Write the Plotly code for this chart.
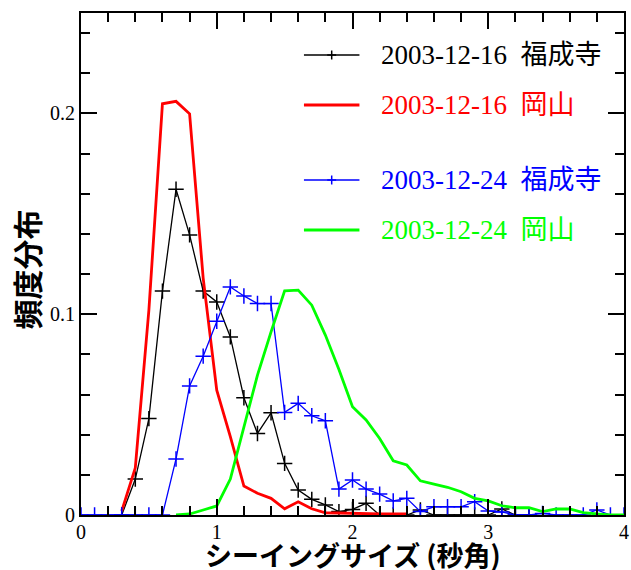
import plotly.graph_objects as go

# ---- data ----
x_black = [0.3, 0.4, 0.5, 0.6, 0.7, 0.8, 0.9, 1.0, 1.1, 1.2, 1.3, 1.4, 1.5, 1.6, 1.7, 1.8, 1.9, 2.0,
           2.1, 2.2, 2.3, 2.4, 2.5, 2.6, 2.7, 2.8, 2.9, 3.0, 3.1, 3.2, 3.3]
y_black = [0.0, 0.0179, 0.048, 0.1115, 0.1622, 0.1395, 0.1115, 0.1061, 0.0887, 0.0584, 0.0406, 0.0509,
           0.0257, 0.0124, 0.0078, 0.005, 0.0017, 0.0028, 0.0058, 0.0, 0.0, 0.0, 0.0025, 0.0, 0.0, 0.0,
           0.0, 0.0, 0.003, 0.0, 0.0]

x_red = [0.3, 0.4, 0.5, 0.6, 0.7, 0.8, 0.9, 1.0, 1.1, 1.2, 1.3, 1.4, 1.5, 1.6, 1.7, 1.8, 1.9, 2.0,
         2.1, 2.2, 2.3, 2.4]
y_red = [0.002, 0.0235, 0.102, 0.2048, 0.206, 0.1998, 0.118, 0.0622, 0.039, 0.0144, 0.0108, 0.0083,
         0.0031, 0.0066, 0.0031, 0.0011, 0.001, 0.0008, 0.0005, 0.0005, 0.0005, 0.0005]

x_blue = [0.0, 0.1, 0.2, 0.3, 0.4, 0.5, 0.6, 0.7, 0.8, 0.9, 1.0, 1.1, 1.2, 1.3, 1.4, 1.5, 1.6, 1.7,
          1.8, 1.9, 2.0, 2.1, 2.2, 2.3, 2.4, 2.5, 2.6, 2.7, 2.8, 2.9, 3.0, 3.1, 3.2, 3.3, 3.4, 3.5,
          3.6, 3.7, 3.8, 3.9, 4.0]
y_blue = [0.0, 0.0, 0.0, 0.0, 0.0, 0.0, 0.0, 0.0279, 0.0643, 0.0791, 0.0965, 0.1136, 0.1091, 0.1053,
          0.1053, 0.0511, 0.0556, 0.0494, 0.0469, 0.0129, 0.0174, 0.0129, 0.0104, 0.007, 0.0083,
          0.0017, 0.0041, 0.0041, 0.0041, 0.0066, 0.002, 0.0015, 0.0, 0.0, 0.0008, 0.0, 0.0, 0.0,
          0.0025, 0.0, 0.0]

x_green = [0.7, 0.8, 0.9, 1.0, 1.1, 1.2, 1.3, 1.4, 1.5, 1.6, 1.7, 1.8, 1.9, 2.0, 2.1, 2.2, 2.3, 2.4,
           2.5, 2.6, 2.7, 2.8, 2.9, 3.0, 3.1, 3.2, 3.3, 3.4, 3.5, 3.6, 3.7, 3.8, 3.9, 4.0]
y_green = [0.0, 0.0005, 0.0025, 0.0045, 0.0179, 0.044, 0.0697, 0.0912, 0.1116, 0.112, 0.1045, 0.0896,
           0.0725, 0.0539, 0.0473, 0.0381, 0.027, 0.0249, 0.017, 0.0154, 0.0138, 0.0116, 0.0083,
           0.007, 0.0046, 0.0036, 0.0036, 0.0017, 0.003, 0.003, 0.0012, 0.0005, 0.0, 0.0]

series_names = ["2003-12-16\u00a0\u00a0福成寺", "2003-12-16\u00a0\u00a0岡山",
                "2003-12-24\u00a0\u00a0福成寺", "2003-12-24\u00a0\u00a0岡山"]
series_colors = ["#000000", "#ff0000", "#0000ff", "#00ff00"]

x_tickvals = [0, 1, 2, 3, 4]
x_ticktext = ["0", "1", "2", "3", "4"]
y_tickvals = [0, 0.1, 0.2]
y_ticktext = ["0", "0.1", "0.2"]

x_title = "シーイングサイズ (秒角)"
y_title = "頻度分布"

SERIF = "Liberation Serif, Times New Roman, serif"
MIX = "Liberation Serif, Noto Sans CJK JP, serif"
CJK = "Noto Sans CJK JP, sans-serif"

fig = go.Figure()

def marker_trace(x, y, color, name):
    return go.Scatter(x=x, y=y, mode="lines+markers", name=name, showlegend=False,
                      line=dict(color=color, width=1.3),
                      marker=dict(symbol="cross-thin", size=11, color=color,
                                  line=dict(color=color, width=1.5)))

fig.add_trace(marker_trace(x_black, y_black, series_colors[0], series_names[0]))
fig.add_trace(go.Scatter(x=x_red, y=y_red, mode="lines", name=series_names[1], showlegend=False,
                         line=dict(color=series_colors[1], width=2.8)))
fig.add_trace(marker_trace(x_blue, y_blue, series_colors[2], series_names[2]))
fig.add_trace(go.Scatter(x=x_green, y=y_green, mode="lines", name=series_names[3], showlegend=False,
                         line=dict(color=series_colors[3], width=2.8)))

W, H = 631, 570
ml, mr, mt, mb = 81, 2, 13, 55
pw, ph = W - ml - mr, H - mt - mb

def px_to_paper(px, py):
    return (px - ml) / pw, (H - mb - py) / ph

# ---- manual legend ----
legend_rows_py = [55, 105, 180, 230]
widths = [1.3, 2.8, 1.3, 2.8]
has_marker = [True, False, True, False]
shapes = []
annotations = []
for i, py in enumerate(legend_rows_py):
    x0, y0 = px_to_paper(306, py)
    x1, _ = px_to_paper(362, py)
    shapes.append(dict(type="line", xref="paper", yref="paper", x0=x0, x1=x1, y0=y0, y1=y0,
                       line=dict(color=series_colors[i], width=widths[i])))
    if has_marker[i]:
        cx, cy = px_to_paper(334, py)
        dx, dy = 4.5 / pw, 4.5 / ph
        shapes.append(dict(type="line", xref="paper", yref="paper", x0=cx - dx, x1=cx + dx, y0=cy, y1=cy,
                           line=dict(color=series_colors[i], width=1.5)))
        shapes.append(dict(type="line", xref="paper", yref="paper", x0=cx, x1=cx, y0=cy - dy, y1=cy + dy,
                           line=dict(color=series_colors[i], width=1.5)))
    tx, ty = px_to_paper(382, py)
    annotations.append(dict(xref="paper", yref="paper", x=tx, y=ty, xanchor="left", yanchor="middle",
                            text=series_names[i], showarrow=False,
                            font=dict(family=MIX, size=27, color=series_colors[i])))

# axis titles
tx, ty = px_to_paper(355, 554)
annotations.append(dict(xref="paper", yref="paper", x=tx, y=ty, xanchor="center", yanchor="middle",
                        text=x_title, showarrow=False,
                        font=dict(family=CJK, size=27, color="black", weight="bold")))
tx, ty = px_to_paper(25, 270)
annotations.append(dict(xref="paper", yref="paper", x=tx, y=ty, xanchor="center", yanchor="middle",
                        text=y_title, showarrow=False, textangle=-90,
                        font=dict(family=CJK, size=30, color="black", weight="bold")))

axis_common = dict(showline=True, linecolor="black", linewidth=2, mirror="allticks",
                   ticks="inside", ticklen=16, tickwidth=2, tickcolor="black",
                   showgrid=False, zeroline=False, ticklabeloverflow="allow",
                   tickfont=dict(family=SERIF, size=20, color="black"))

fig.update_layout(
    width=W, height=H,
    margin=dict(l=ml, r=mr, t=mt, b=mb, pad=0),
    paper_bgcolor="white", plot_bgcolor="white",
    showlegend=False,
    xaxis=dict(range=[0, 4], tickvals=x_tickvals, ticktext=x_ticktext, ticklabelstandoff=-2,
               minor=dict(dtick=0.2, ticks="inside", ticklen=9, tickwidth=1.5, tickcolor="black",
                          showgrid=False),
               **axis_common),
    yaxis=dict(range=[0, 0.25], tickvals=y_tickvals, ticktext=y_ticktext,
               minor=dict(dtick=0.02, ticks="inside", ticklen=9, tickwidth=1.5, tickcolor="black",
                          showgrid=False),
               **axis_common),
    shapes=shapes,
    annotations=annotations,
)

fig.write_html("out.html")
